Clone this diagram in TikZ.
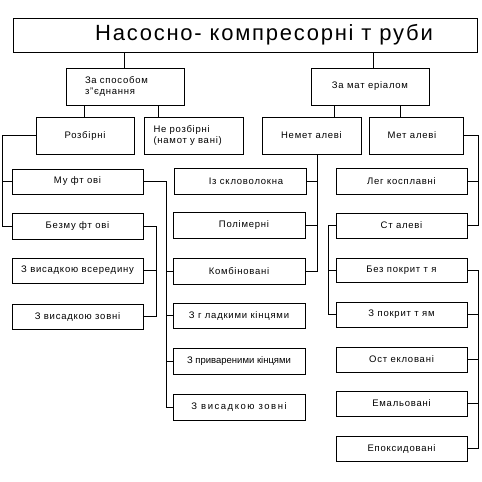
\documentclass[tikz,border=0pt]{standalone}
\usepackage{fontspec}
\setmainfont{Liberation Sans}[LetterSpace=8]
\begin{document}
\begin{tikzpicture}[x=1pt,y=-1pt,
  bx/.style={draw, line width=1pt, inner sep=0pt, outer sep=0pt, font=\fontsize{9.5}{11}\selectfont},
  ln/.style={line width=1pt}]
\useasboundingbox (0,0) rectangle (482,482);
\newcommand\mybox[6]{\node[bx, minimum width={#4-#2}, minimum height={#5-#3}] (#1) at ({(#2+#4)/2},{(#3+#5)/2}) {#6};}
% level 0
\node[bx, minimum width=464, minimum height=34, font=\fontsize{22}{26}\selectfont] (title) at (245,35) {\hspace*{38pt}Насосно- компресорні т руби};
% level 1
\node[bx, minimum width=118, minimum height=37, text width=80pt, align=left] (spos) at (125,86.5) {За способом\\з"єднання};
\mybox{mat}{311}{68}{429}{105}{За мат еріалом}
% level 2
\mybox{roz}{36}{117}{134}{154}{Розбірні}
\node[bx, minimum width=99, minimum height=37, text width=80pt, align=left] (nroz) at (193.5,135.5) {Не розбірні\\(намот у вані)};
\mybox{nemet}{262}{117}{361}{154}{Немет алеві}
\mybox{metal}{369}{117}{463}{154}{\hspace*{-8pt}Мет алеві}
% left column
\mybox{muft}{12}{169}{143}{194}{Му фт ові}
\mybox{bezm}{12}{213}{143}{239}{Безму фт ові}
\mybox{vsr}{12}{258}{143}{283}{З висадкою всередину}
\mybox{vz1}{12}{304}{143}{329}{З висадкою зовні}
% middle column
\mybox{sklo}{174}{168}{306}{194}{\hspace*{12pt}Із скловолокна}
\mybox{pol}{173}{212}{305}{238}{\hspace*{10pt}Полімерні}
\mybox{komb}{173}{258}{305}{284}{Комбіновані}
\mybox{glad}{173}{303}{305}{328}{З г ладкими кінцями}
\mybox{priv}{173}{348}{305}{374}{\addfontfeatures{LetterSpace=0}З привареними кінцями}
\mybox{vz2}{173}{394}{305}{420}{\addfontfeatures{LetterSpace=16}З висадкою зовні}
% right column
\mybox{leg}{336}{168}{467}{194}{Лег косплавні}
\mybox{stal}{336}{213}{467}{238}{Ст алеві}
\mybox{bezp}{336}{258}{467}{282}{Без покрит т я}
\mybox{zpok}{336}{302}{467}{327}{З покрит т ям}
\mybox{ostek}{336}{347}{467}{372}{Ост екловані}
\mybox{emal}{336}{391}{467}{416}{Емальовані}
\mybox{epok}{336}{436}{467}{461}{Епоксидовані}
% connectors: top
\draw[ln] ([xshift=-1pt]spos.north) -- ([xshift=-1pt]spos.north |- title.south);
\draw[ln] ([xshift=3pt]mat.north) -- ([xshift=3pt]mat.north |- title.south);
\draw[ln] ([xshift=-41pt]spos.south) -- ([xshift=-41pt]spos.south |- roz.north);
\draw[ln] ([xshift=33pt]spos.south) -- ([xshift=33pt]spos.south |- nroz.north);
\draw[ln] ([xshift=-36pt]mat.south) -- ([xshift=-36pt]mat.south |- nemet.north);
\draw[ln] ([xshift=30pt]mat.south) -- ([xshift=30pt]mat.south |- metal.north);
% left bus
\draw[ln] (roz.west) -| ([xshift=-10pt]bezm.west) -- (bezm.west);
\draw[ln] (muft.west) -- ++(-10,0);
% muftovi bus
\draw[ln] (muft.east) -| ([xshift=-7pt]vz2.west) -- (vz2.west);
\draw[ln] (komb.west) -- ++(-7,0);
\draw[ln] (glad.west) -- ++(-7,0);
\draw[ln] (priv.west) -- ++(-7,0);
% bezmuftovi bus
\draw[ln] (bezm.east) -| ([xshift=13pt]vz1.east) -- (vz1.east);
\draw[ln] (vsr.east) -- ++(13,0);
% nemetalevi bus
\coordinate (nb) at ([xshift=5.5pt]nemet.south);
\draw[ln] (nb) |- (komb.east);
\draw[ln] (sklo.east) -- (sklo.east -| nb);
\draw[ln] (pol.east) -- (pol.east -| nb);
% metalevi bus
\draw[ln] (metal.east) -| ([xshift=11pt]stal.east) -- (stal.east);
\draw[ln] (leg.east) -- ++(11,0);
% stalevi bus
\draw[ln] (stal.west) -| ([xshift=-8pt]zpok.west) -- (zpok.west);
\draw[ln] (bezp.west) -- ++(-8,0);
% bez pokryttya bus
\draw[ln] (bezp.east) -| ([xshift=11pt]epok.east) -- (epok.east);
\draw[ln] (zpok.east) -- ++(11,0);
\draw[ln] (ostek.east) -- ++(11,0);
\draw[ln] (emal.east) -- ++(11,0);
\end{tikzpicture}
\end{document}
